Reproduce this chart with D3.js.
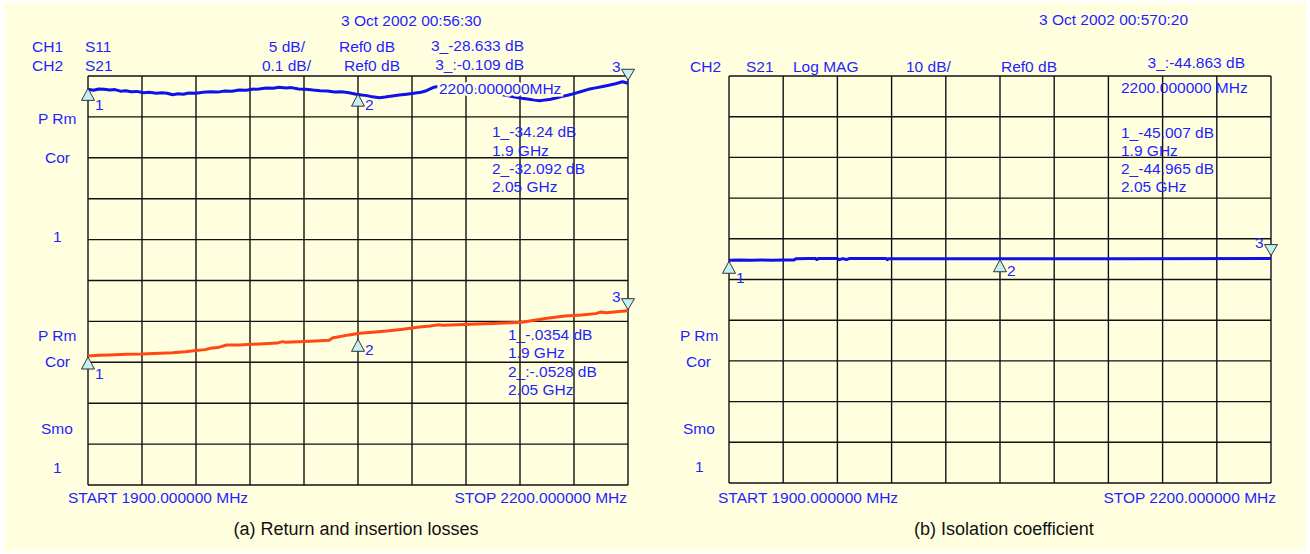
<!DOCTYPE html>
<html>
<head>
<meta charset="utf-8">
<script src="https://cdn.jsdelivr.net/npm/d3@7"></script>
<style>
  body { margin: 0; background: #fff; }
  svg text { font-family: Arial, "Liberation Sans", sans-serif; }
</style>
</head>
<body>
<svg id="chart" width="1310" height="554"></svg>
<script>
// sweep
const startMHz = 1900;
const stopMHz = 2200;
const markerFreqs = [1900, 2050, 2200];

// (a) S11, dB  [freq MHz, value]
const s11Freq = [1900,1903,1906,1909,1912,1915,1918,1921,1924,1927,1931,1934,1938,1941,1944,1947,1950,1953,1956,1960,
  1964,1968,1972,1976,1980,1984,1988,1991,1995,1999,2003,2006,2010,2013,2017,2021,2025,2029,2033,2037,
  2041,2045,2049,2052,2055,2058,2062,2065,2069,2073,2077,2081,2085,2088,2092,2096,2101,2106,2112,2117,
  2123,2126,2129,2133,2137,2141,2145,2148,2151,2154,2157,2160,2163,2167,2170,2174,2178,2182,2186,2190,
  2193,2197,2200];
const s11Values = [-28.63,-28.75,-28.58,-28.62,-28.70,-28.66,-28.85,-28.80,-28.92,-28.88,-29.04,-28.98,-29.10,-29.05,-29.11,-29.30,-29.18,-29.24,-29.08,-29.12,
  -28.98,-28.92,-28.97,-28.84,-28.86,-28.70,-28.74,-28.63,-28.58,-28.47,-28.50,-28.38,-28.47,-28.42,-28.58,-28.62,-28.72,-28.80,-28.84,-28.95,
  -28.93,-29.05,-29.22,-29.32,-29.40,-29.55,-29.65,-29.58,-29.45,-29.32,-29.22,-29.12,-28.99,-28.80,-28.38,-28.25,-28.22,-28.30,-28.47,-28.70,
  -28.96,-29.10,-29.24,-29.40,-29.58,-29.73,-29.85,-29.95,-30.02,-29.92,-29.85,-29.70,-29.52,-29.32,-29.15,-28.90,-28.63,-28.45,-28.28,-28.10,
  -27.95,-27.70,-27.89];

// (a) S21, dB
const s21Freq = [1900,1906,1912,1921,1930,1940,1947,1954,1960,1965,1968,1972,1977,1984,1991,1998,2005,2008,2010,2020,
  2029,2034,2036,2038,2045,2051,2058,2066,2075,2083,2090,2095,2097,2105,2116,2125,2135,2141,2148,2155,
  2165,2174,2182,2185,2188,2195,2200];
const s21Values = [-0.1846,-0.1830,-0.1822,-0.1804,-0.1800,-0.1780,-0.1765,-0.1741,-0.1712,-0.1690,-0.1658,-0.1640,-0.1577,-0.1575,-0.1560,-0.1545,-0.1530,-0.1495,-0.1511,-0.1490,
  -0.1472,-0.1460,-0.1400,-0.1389,-0.1330,-0.1291,-0.1265,-0.1235,-0.1190,-0.1144,-0.1115,-0.1080,-0.1095,-0.1080,-0.1064,-0.1050,-0.1035,-0.1022,-0.0970,-0.0924,
  -0.0870,-0.0844,-0.0810,-0.0770,-0.0787,-0.0760,-0.0738];

// (b) isolation S21, dB
const isoFreq = [1900,1906,1912,1918,1924,1930,1936,1937,1944,1948,1948.5,1949.5,1956,1960,1961,1963,1965,1966.5,1975,1987,
  1987.5,1988.5,2050,2120,2200];
const isoValues = [-45.28,-45.22,-45.30,-45.20,-45.26,-45.22,-45.20,-44.88,-44.85,-44.86,-45.10,-44.86,-44.84,-44.86,-45.12,-44.86,-45.10,-44.86,-44.84,-44.86,
  -45.12,-44.88,-44.90,-44.88,-44.86];

const BLUE = "#1f1fff";
const TRACE_BLUE = "#1010e8";
const TRACE_ORANGE = "#ff4812";

const svg = d3.select("#chart");

// page background
svg.append("rect")
    .attr("x", 4).attr("y", 3)
    .attr("width", 1302).attr("height", 548)
    .attr("fill", "#ffffe0");

function zip(fs, vs) { return fs.map((f, i) => ({ f: f, v: vs[i] })); }

function drawGrid(g, x, y0, y1) {
    const [xa, xb] = x.range();
    const rows = d3.scaleLinear().domain([0, 10]).range([y0, y1]);
    const cols = d3.scaleLinear().domain([0, 10]).range([xa, xb]);
    g.append("g").selectAll("line").data(d3.range(11)).enter().append("line")
        .attr("x1", xa).attr("x2", xb)
        .attr("y1", d => rows(d)).attr("y2", d => rows(d))
        .attr("stroke", "#111").attr("stroke-width", 1.4);
    g.append("g").selectAll("line").data(d3.range(11)).enter().append("line")
        .attr("y1", y0).attr("y2", y1)
        .attr("x1", d => cols(d)).attr("x2", d => cols(d))
        .attr("stroke", "#111").attr("stroke-width", 1.4);
}

function drawTrace(g, data, x, y, color) {
    const line = d3.line().x(d => x(d.f)).y(d => y(d.v));
    g.append("path").datum(data)
        .attr("d", line)
        .attr("fill", "none")
        .attr("stroke", color)
        .attr("stroke-width", 3)
        .attr("stroke-linejoin", "round");
}

function drawMarkers(g, data, x, y, lift) {
    markerFreqs.forEach((mf, i) => {
        const p = data.reduce((a, b) => Math.abs(b.f - mf) < Math.abs(a.f - mf) ? b : a);
        const px = x(mf), py = y(p.v) + (lift[i] || 0);
        if (i < 2) {
            g.append("path")
                .attr("d", `M${px},${py} L${px - 6.5},${py + 12} L${px + 6.5},${py + 12} Z`)
                .attr("fill", "#c4f0f4").attr("stroke", "#333").attr("stroke-width", 1);
            g.append("text").attr("x", px + 7).attr("y", py + (i === 0 ? 22 : 16))
                .attr("fill", BLUE).style("font-size", "15.5px").text(i + 1);
        } else {
            g.append("path")
                .attr("d", `M${px},${py} L${px - 6.5},${py - 11} L${px + 6.5},${py - 11} Z`)
                .attr("fill", "#c4f0f4").attr("stroke", "#333").attr("stroke-width", 1);
            g.append("text").attr("x", px - 16).attr("y", py - 8)
                .attr("fill", BLUE).style("font-size", "15.5px").text(3);
        }
    });
}

function addText(g, items, size, color) {
    g.selectAll(null).data(items).enter().append("text")
        .attr("x", d => d[1]).attr("y", d => d[2])
        .attr("text-anchor", d => d[3] || "start")
        .attr("fill", color)
        .style("font-size", size)
        .text(d => d[0]);
}

// ---------- (a) return and insertion losses ----------
const ga = svg.append("g");
const xa = d3.scaleLinear().domain([startMHz, stopMHz]).range([88, 628]);
const ya11 = d3.scaleLinear().domain([-77, -27]).range([485, 76]);   // 5 dB/div
const ya21 = d3.scaleLinear().domain([-0.5, 0.5]).range([485, 76]);  // 0.1 dB/div
drawGrid(ga, xa, 76, 485);

const s11 = zip(s11Freq, s11Values);
const s21 = zip(s21Freq, s21Values);
drawTrace(ga, s11, xa, ya11, TRACE_BLUE);
drawTrace(ga, s21, xa, ya21, TRACE_ORANGE);
drawMarkers(ga, s11, xa, ya11, [-1, 0, -3]);
drawMarkers(ga, s21, xa, ya21, [1, 6, -1]);

addText(ga, [
    ["3 Oct 2002 00:56:30", 341, 26],
    ["CH1", 32, 52], ["S11", 85, 52], ["5 dB/", 305, 52, "end"], ["Ref0 dB", 339, 52], ["3_-28.633 dB", 524, 51, "end"],
    ["CH2", 32, 71], ["S21", 85, 71], ["0.1 dB/", 311, 71, "end"], ["Ref0 dB", 344, 71], ["3_:-0.109 dB", 524, 70, "end"],
    ["P Rm", 38, 124], ["Cor", 45, 163], ["1", 53, 242],
    ["1_-34.24 dB", 492, 137], ["1.9 GHz", 492, 155.5], ["2_-32.092 dB", 492, 174], ["2.05 GHz", 492, 192],
    ["P Rm", 38, 341], ["Cor", 45, 367], ["Smo", 41, 434], ["1", 53, 473],
    ["1_-.0354 dB", 508, 340], ["1.9 GHz", 508, 358], ["2_:-.0528 dB", 508, 377], ["2.05 GHz", 508, 395],
    ["START 1900.000000 MHz", 68, 503], ["STOP 2200.000000 MHz", 627, 503, "end"]
], "15.5px", BLUE);
ga.append("text").attr("x", 439).attr("y", 94)
    .attr("fill", BLUE).style("font-size", "15.5px")
    .attr("stroke", "#ffffe0").attr("stroke-width", 5).attr("paint-order", "stroke")
    .text("2200.000000MHz");
addText(ga, [["(a) Return and insertion losses", 356, 535, "middle"]], "18px", "#111");

// ---------- (b) isolation coefficient ----------
const gb = svg.append("g");
const xb = d3.scaleLinear().domain([startMHz, stopMHz]).range([729, 1271]);
const yb = d3.scaleLinear().domain([-100, 0]).range([483, 76]);       // 10 dB/div, ref 0 dB
drawGrid(gb, xb, 76, 483);

const iso = zip(isoFreq, isoValues);
drawTrace(gb, iso, xb, yb, TRACE_BLUE);
drawMarkers(gb, iso, xb, yb, [1, 1, -3]);

addText(gb, [
    ["3 Oct 2002 00:570:20", 1039, 25],
    ["CH2", 690, 72], ["S21", 746, 72], ["Log MAG", 793, 72], ["10 dB/", 906, 72], ["Ref0 dB", 1001, 72], ["3_:-44.863 dB", 1245, 68, "end"],
    ["2200.000000 MHz", 1121, 93],
    ["1_-45.007 dB", 1121, 137.5], ["1.9 GHz", 1121, 155.5], ["2_-44.965 dB", 1121, 173.5], ["2.05 GHz", 1121, 192],
    ["P Rm", 680, 341], ["Cor", 686, 367], ["Smo", 683, 434], ["1", 695, 472],
    ["START 1900.000000 MHz", 718, 503], ["STOP 2200.000000 MHz", 1276, 503, "end"]
], "15.5px", BLUE);
addText(gb, [["(b) Isolation coefficient", 1004, 535, "middle"]], "18px", "#111");
</script>
</body>
</html>
